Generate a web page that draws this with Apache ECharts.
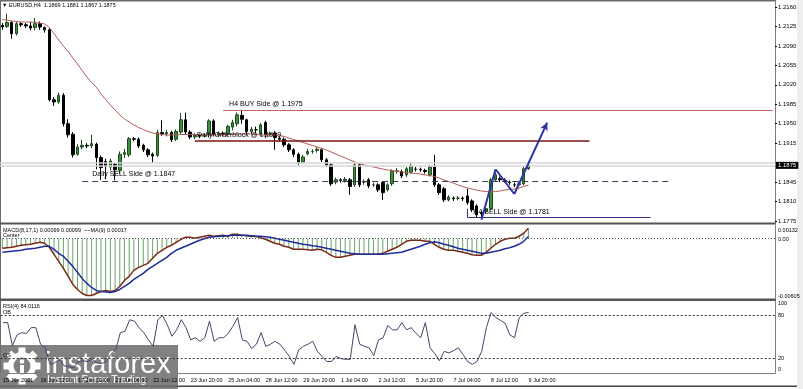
<!DOCTYPE html>
<html>
<head>
<meta charset="utf-8">
<title>EURUSD H4</title>
<script src="https://cdn.jsdelivr.net/npm/echarts@6/dist/echarts.min.js"></script>
<style>
  html, body { margin: 0; padding: 0; background: #fff; }
  #chart { width: 803px; height: 389px; }
</style>
</head>
<body>
<div id="chart"></div>
<script>
// ---- data ----
const symbol = 'EURUSD,H4'
const slotCount = 165 // bars + empty chart shift on the right

// every 8th bar gets a time label
const timeLabels = ['15 Jun 2021', '16 Jun 12:00', '17 Jun 20:00', '21 Jun 04:00', '22 Jun 12:00',
  '23 Jun 20:00', '25 Jun 04:00', '28 Jun 12:00', '29 Jun 20:00', '1 Jul 04:00', '2 Jul 12:00',
  '5 Jul 20:00', '7 Jul 04:00', '8 Jul 12:00', '9 Jul 20:00']

// [open, close, low, high]
const candles = [
  [1.2127, 1.2124, 1.2119, 1.2131], [1.2125, 1.2132, 1.2122, 1.2148], [1.2132, 1.2112, 1.2103, 1.2135],
  [1.2112, 1.2130, 1.2109, 1.2134], [1.2130, 1.2128, 1.2124, 1.2133], [1.2128, 1.2126, 1.2122, 1.2131],
  [1.2126, 1.2122, 1.2118, 1.2133], [1.2123, 1.2130, 1.2118, 1.2140], [1.2130, 1.2124, 1.2119, 1.2134],
  [1.2123, 1.2119, 1.2114, 1.2125], [1.2119, 1.1993, 1.1990, 1.2122], [1.1993, 1.1989, 1.1982, 1.1998],
  [1.1989, 1.2001, 1.1986, 1.2006], [1.2001, 1.1950, 1.1945, 1.2005], [1.1950, 1.1930, 1.1925, 1.1958],
  [1.1931, 1.1894, 1.1889, 1.1935], [1.1895, 1.1908, 1.1892, 1.1913], [1.1908, 1.1911, 1.1904, 1.1921],
  [1.1911, 1.1910, 1.1906, 1.1915], [1.1910, 1.1914, 1.1906, 1.1930], [1.1913, 1.1889, 1.1868, 1.1916],
  [1.1889, 1.1871, 1.1849, 1.1893], [1.1882, 1.1873, 1.1850, 1.1887], [1.1872, 1.1883, 1.1866, 1.1887],
  [1.1877, 1.1867, 1.1848, 1.1880], [1.1866, 1.1895, 1.1860, 1.1900], [1.1895, 1.1898, 1.1888, 1.1905],
  [1.1894, 1.1923, 1.1890, 1.1926], [1.1923, 1.1922, 1.1918, 1.1926], [1.1922, 1.1910, 1.1906, 1.1925],
  [1.1911, 1.1903, 1.1899, 1.1914], [1.1903, 1.1894, 1.1890, 1.1906], [1.1895, 1.1892, 1.1880, 1.1898],
  [1.1893, 1.1934, 1.1890, 1.1939], [1.1934, 1.1932, 1.1928, 1.1956], [1.1932, 1.1934, 1.1927, 1.1939],
  [1.1934, 1.1921, 1.1917, 1.1937], [1.1922, 1.1936, 1.1919, 1.1940], [1.1935, 1.1957, 1.1931, 1.1969],
  [1.1957, 1.1935, 1.1930, 1.1970], [1.1935, 1.1926, 1.1922, 1.1938], [1.1926, 1.1929, 1.1922, 1.1933],
  [1.1929, 1.1928, 1.1924, 1.1932], [1.1928, 1.1929, 1.1925, 1.1932], [1.1930, 1.1955, 1.1925, 1.1958],
  [1.1955, 1.1930, 1.1927, 1.1958], [1.1930, 1.1933, 1.1926, 1.1936], [1.1933, 1.1931, 1.1927, 1.1936],
  [1.1932, 1.1945, 1.1928, 1.1948], [1.1944, 1.1952, 1.1938, 1.1957], [1.1950, 1.1966, 1.1945, 1.1970],
  [1.1965, 1.1958, 1.1950, 1.1975], [1.1957, 1.1936, 1.1931, 1.1959], [1.1936, 1.1940, 1.1932, 1.1944],
  [1.1939, 1.1939, 1.1933, 1.1945], [1.1931, 1.1948, 1.1928, 1.1951], [1.1952, 1.1930, 1.1924, 1.1955],
  [1.1931, 1.1932, 1.1927, 1.1936], [1.1933, 1.1925, 1.1903, 1.1937], [1.1924, 1.1922, 1.1918, 1.1927],
  [1.1922, 1.1912, 1.1908, 1.1925], [1.1912, 1.1903, 1.1899, 1.1915], [1.1903, 1.1895, 1.1890, 1.1906],
  [1.1895, 1.1880, 1.1876, 1.1898], [1.1881, 1.1890, 1.1878, 1.1894], [1.1896, 1.1900, 1.1893, 1.1905],
  [1.1900, 1.1900, 1.1896, 1.1904], [1.1902, 1.1904, 1.1898, 1.1908], [1.1903, 1.1885, 1.1881, 1.1906],
  [1.1885, 1.1876, 1.1872, 1.1888], [1.1876, 1.1842, 1.1838, 1.1879], [1.1845, 1.1849, 1.1841, 1.1853],
  [1.1849, 1.1848, 1.1844, 1.1852], [1.1848, 1.1850, 1.1844, 1.1854], [1.1849, 1.1837, 1.1822, 1.1852],
  [1.1840, 1.1876, 1.1836, 1.1879], [1.1876, 1.1840, 1.1836, 1.1879], [1.1845, 1.1845, 1.1840, 1.1850],
  [1.1849, 1.1838, 1.1834, 1.1852], [1.1840, 1.1840, 1.1836, 1.1844], [1.1840, 1.1831, 1.1827, 1.1843],
  [1.1844, 1.1826, 1.1813, 1.1847], [1.1831, 1.1840, 1.1828, 1.1843], [1.1842, 1.1865, 1.1838, 1.1868],
  [1.1865, 1.1865, 1.1860, 1.1870], [1.1864, 1.1856, 1.1852, 1.1867], [1.1858, 1.1869, 1.1854, 1.1872],
  [1.1863, 1.1874, 1.1860, 1.1880], [1.1868, 1.1868, 1.1864, 1.1872], [1.1868, 1.1867, 1.1863, 1.1871],
  [1.1866, 1.1864, 1.1860, 1.1869], [1.1858, 1.1872, 1.1855, 1.1876], [1.1872, 1.1840, 1.1836, 1.1894],
  [1.1840, 1.1826, 1.1822, 1.1843], [1.1833, 1.1813, 1.1809, 1.1836], [1.1813, 1.1818, 1.1810, 1.1821],
  [1.1816, 1.1815, 1.1811, 1.1819], [1.1816, 1.1816, 1.1812, 1.1820], [1.1816, 1.1815, 1.1811, 1.1819],
  [1.1820, 1.1808, 1.1804, 1.1833], [1.1811, 1.1795, 1.1791, 1.1814], [1.1802, 1.1786, 1.1782, 1.1805],
  [1.1790, 1.1788, 1.1781, 1.1793], [1.1792, 1.1797, 1.1788, 1.1800], [1.1797, 1.1849, 1.1794, 1.1852],
  [1.1849, 1.1858, 1.1845, 1.1862], [1.1851, 1.1849, 1.1845, 1.1855], [1.1848, 1.1848, 1.1844, 1.1852],
  [1.1845, 1.1844, 1.1840, 1.1848], [1.1840, 1.1840, 1.1836, 1.1844], [1.1840, 1.1842, 1.1836, 1.1846],
  [1.1842, 1.1869, 1.1839, 1.1872], [1.1869, 1.1875, 1.1867, 1.1881]
]

// moving average on the price panel
const maValues = [
  1.21375, 1.21366, 1.21348, 1.21339, 1.21330, 1.21330, 1.21330, 1.21321, 1.21312, 1.21294,
  1.21231, 1.21123, 1.21006, 1.20898, 1.20799, 1.20683, 1.20574, 1.20457, 1.20340, 1.20241,
  1.20160, 1.20034, 1.19935, 1.19836, 1.19747, 1.19657, 1.19585, 1.19531, 1.19477, 1.19432,
  1.19396, 1.19360, 1.19333, 1.19315, 1.19306, 1.19297, 1.19297, 1.19297, 1.19306, 1.19306,
  1.19306, 1.19306, 1.19306, 1.19297, 1.19297, 1.19297, 1.19297, 1.19297, 1.19306, 1.19306,
  1.19315, 1.19315, 1.19315, 1.19315, 1.19306, 1.19297, 1.19297, 1.19297, 1.19297, 1.19288,
  1.19270, 1.19243, 1.19216, 1.19189, 1.19162, 1.19135, 1.19108, 1.19081, 1.19054, 1.19027,
  1.18991, 1.18955, 1.18919, 1.18883, 1.18847, 1.18811, 1.18784, 1.18757, 1.18739, 1.18721,
  1.18703, 1.18685, 1.18667, 1.18658, 1.18640, 1.18631, 1.18622, 1.18613, 1.18604, 1.18595,
  1.18577, 1.18568, 1.18550, 1.18523, 1.18487, 1.18460, 1.18433, 1.18396, 1.18370, 1.18343,
  1.18325, 1.18307, 1.18289, 1.18280, 1.18271, 1.18280, 1.18289, 1.18307, 1.18316, 1.18325,
  1.18343, 1.18370, 1.18396
]

const macdValues = [
  -0.00100, -0.00095, -0.00090, -0.00080, -0.00070, -0.00065, -0.00060, -0.00050, -0.00040, -0.00050,
  -0.00090, -0.00160, -0.00230, -0.00300, -0.00380, -0.00460, -0.00510, -0.00550, -0.00570, -0.00570,
  -0.00550, -0.00530, -0.00520, -0.00530, -0.00520, -0.00480, -0.00420, -0.00380, -0.00320, -0.00290,
  -0.00270, -0.00250, -0.00200, -0.00150, -0.00120, -0.00090, -0.00070, -0.00040, -0.00010, 0.00010,
  0.00010, 0.00000, 0.00010, 0.00020, 0.00030, 0.00020, 0.00025, 0.00030, 0.00020, 0.00040,
  0.00040, 0.00030, 0.00025, 0.00020, 0.00020, 0.00005, -0.00010, -0.00030, -0.00050, -0.00060,
  -0.00080, -0.00090, -0.00110, -0.00110, -0.00110, -0.00115, -0.00120, -0.00110, -0.00115, -0.00140,
  -0.00170, -0.00190, -0.00190, -0.00180, -0.00170, -0.00160, -0.00160, -0.00160, -0.00160, -0.00160,
  -0.00160, -0.00150, -0.00130, -0.00110, -0.00090, -0.00060, -0.00030, -0.00020, -0.00020, -0.00020,
  -0.00030, -0.00030, -0.00060, -0.00090, -0.00110, -0.00120, -0.00120, -0.00130, -0.00140, -0.00150,
  -0.00165, -0.00170, -0.00170, -0.00140, -0.00100, -0.00060, -0.00030, -0.00010, 0.00000, 0.00000,
  0.00020, 0.00050, 0.00099
]

const macdSignal = [
  -0.00140, -0.00135, -0.00130, -0.00125, -0.00120, -0.00110, -0.00105, -0.00100, -0.00090, -0.00080,
  -0.00080, -0.00110, -0.00150, -0.00180, -0.00230, -0.00280, -0.00340, -0.00400, -0.00450, -0.00490,
  -0.00520, -0.00530, -0.00535, -0.00540, -0.00530, -0.00510, -0.00480, -0.00450, -0.00410, -0.00380,
  -0.00350, -0.00310, -0.00280, -0.00250, -0.00220, -0.00190, -0.00150, -0.00120, -0.00100, -0.00080,
  -0.00060, -0.00040, -0.00020, -0.00005, 0.00010, 0.00015, 0.00020, 0.00020, 0.00025, 0.00030,
  0.00030, 0.00030, 0.00030, 0.00025, 0.00020, 0.00020, 0.00015, 0.00010, 0.00000, -0.00010,
  -0.00020, -0.00030, -0.00040, -0.00050, -0.00060, -0.00065, -0.00075, -0.00080, -0.00090, -0.00100,
  -0.00110, -0.00120, -0.00130, -0.00140, -0.00150, -0.00155, -0.00160, -0.00160, -0.00160, -0.00160,
  -0.00160, -0.00160, -0.00155, -0.00150, -0.00145, -0.00140, -0.00125, -0.00110, -0.00095, -0.00080,
  -0.00060, -0.00045, -0.00035, -0.00045, -0.00060, -0.00070, -0.00085, -0.00100, -0.00110, -0.00120,
  -0.00130, -0.00140, -0.00150, -0.00150, -0.00140, -0.00130, -0.00120, -0.00105, -0.00095, -0.00080,
  -0.00060, -0.00030, 0.00017
]

const rsiValues = [
  70, 70, 38, 53, 56, 55, 63, 63, 40, 35,
  12, 14, 19, 10, 9, 7, 16, 17, 16, 19,
  14, 13, 16, 26, 32, 56, 58, 74, 72, 63,
  56, 46, 37, 74, 80, 67, 51, 60, 74, 63,
  46, 49, 44, 49, 72, 44, 49, 49, 55, 65,
  77, 46, 44, 34, 40, 56, 37, 40, 44, 40,
  32, 23, 12, 32, 37, 40, 44, 30, 23, 16,
  16, 23, 20, 19, 19, 67, 40, 37, 35, 24,
  46, 49, 66, 60, 60, 70, 60, 63, 55, 49,
  70, 35, 27, 17, 30, 28, 31, 35, 26, 16,
  12, 16, 30, 63, 84, 77, 73, 69, 53, 49,
  77, 83, 84.0116
]

const priceTicks = [1.2160, 1.2125, 1.2090, 1.2055, 1.2020, 1.1985, 1.1950, 1.1915, 1.1845, 1.1810, 1.1775]
const macdTicks = [0.00132, 0, -0.00605]
const macdTickText = ['0.00132', '0.00', '-0.00605']
const rsiTicks = [100, 80, 20, 0]

// drawn objects: horizontal levels (bar index from / to)
const levelNames = ['H4 BUY Side @ 1.1975', 'Daily Orderblock @ 1.1919', 'Daily SELL Side @ 1.1847', 'H4 SELL Side @ 1.1781']
const levelPrices = [1.1975, 1.1919, 1.1847, 1.1781]
const levelFrom = [47, 41, 17, 99]
const levelTo = [164, 125, 142, 138]
const sellBoxTop = 1.1797
const zigzag = [[102, 1.1777], [105, 1.1868], [109, 1.18235], [116, 1.1952]]
const bidPrice = 1.1875
const askPrice = 1.1880

// ---- chart ----
const chart = echarts.init(document.getElementById('chart'))
const slots = Array.from({ length: slotCount }, (_, i) => String(i))
const last = candles[candles.length - 1]
const f4 = (v) => v.toFixed(4)
const tiny = { fontSize: 5.5, fontWeight: 'normal', color: '#000', fontFamily: 'Liberation Sans' }

const levelStyles = [
  { color: '#c86464', width: 1, type: 'solid' },
  { color: '#7d1414', width: 1.5, type: 'solid' },
  { color: '#3c3c5a', width: 1, type: [6, 4] },
  { color: '#34348c', width: 1, type: 'solid' }
]
const labelDist = [[6, 2], [2, 2], [10, 3], [6, 2]]

const levelLines = levelNames.map((name, k) => [
  {
    coord: [levelFrom[k], levelPrices[k]],
    lineStyle: levelStyles[k],
    label: {
      show: true, position: 'insideStartTop', formatter: name, distance: labelDist[k],
      color: '#000', fontSize: 7, fontFamily: 'Liberation Sans'
    }
  },
  { coord: [levelTo[k], levelPrices[k]] }
])

const zigLines = zigzag.slice(1).map((p, k) => [
  { coord: zigzag[k], lineStyle: { color: '#2b35a8', width: 2, type: 'solid' } },
  k === zigzag.length - 2 ? { coord: p, symbol: 'arrow', symbolSize: [6, 8] } : { coord: p }
])

const option = {
  animation: false,
  textStyle: { fontFamily: 'Liberation Sans' },
  title: [
    { text: `\u25BC ${symbol}  ${f4(last[0])} ${f4(last[3])} ${f4(last[2])} ${f4(last[1])}`, left: 2, top: 2, padding: 0, textStyle: tiny },
    { text: `MACD(8,17,1) ${macdValues.at(-1).toFixed(5)} ${macdValues.at(-1).toFixed(5)}  ~~MA(9) ${macdSignal.at(-1).toFixed(5)}`, left: 3, top: 227, padding: 0, textStyle: tiny },
    { text: 'Center', left: 3, top: 232.5, padding: 0, textStyle: tiny },
    { text: `RSI(4) ${rsiValues.at(-1).toFixed(4)}`, left: 3, top: 303, padding: 0, textStyle: tiny },
    { text: 'OB', left: 3, top: 309, padding: 0, textStyle: tiny },
    { text: 'OS', left: 3, top: 352, padding: 0, textStyle: tiny }
  ],
  grid: [
    { left: 0, right: 28, top: 2, height: 221 },
    { left: 0, right: 28, top: 225, height: 74 },
    { left: 0, right: 28, top: 301, height: 72 }
  ],
  xAxis: [0, 1, 2].map((g) => ({
    type: 'category', gridIndex: g, data: slots, boundaryGap: true,
    show: g === 2,
    axisLine: { show: true, lineStyle: { color: '#808080' } },
    axisTick: { show: false },
    splitLine: { show: false },
    axisLabel: {
      show: g === 2, fontSize: 5.5, color: '#000', align: 'left', margin: 4,
      interval: (i) => i % 8 === 0 && i / 8 < timeLabels.length,
      formatter: (v) => timeLabels[Math.round(Number(v) / 8)] || ''
    }
  })),
  yAxis: [
    {
      type: 'value', gridIndex: 0, position: 'right', min: 1.17713, max: 1.21690,
      axisLine: { show: true, lineStyle: { color: '#808080' } },
      splitLine: { show: false },
      axisTick: { show: true, length: 2, customValues: priceTicks, lineStyle: { color: '#000' } },
      axisLabel: { customValues: priceTicks, fontSize: 6, color: '#000', margin: 3, formatter: (v) => v.toFixed(4) }
    },
    {
      type: 'value', gridIndex: 1, position: 'right', min: -0.00605, max: 0.00132,
      axisLine: { show: true, lineStyle: { color: '#808080' } },
      splitLine: { show: false },
      axisTick: { show: false },
      axisLabel: {
        // nudge the extreme labels inside the panel like the terminal does
        customValues: [macdTicks[0] - 0.0005, macdTicks[1] - 0.00015, macdTicks[2] + 0.0003],
        fontSize: 5.5, color: '#000', margin: 3,
        formatter: (v) => {
          let best = 0
          const pos = [macdTicks[0] - 0.0005, macdTicks[1] - 0.00015, macdTicks[2] + 0.0003]
          pos.forEach((p, k) => { if (Math.abs(p - v) < Math.abs(pos[best] - v)) best = k })
          return macdTickText[best]
        }
      }
    },
    {
      type: 'value', gridIndex: 2, position: 'right', min: 0, max: 100,
      axisLine: { show: true, lineStyle: { color: '#808080' } },
      splitLine: { show: false },
      axisTick: { show: false },
      axisLabel: {
        customValues: [rsiTicks[0] - 3.5, rsiTicks[1], rsiTicks[2], rsiTicks[3] + 4.5],
        fontSize: 5.5, color: '#000', margin: 3,
        formatter: (v) => {
          let best = 0
          rsiTicks.forEach((t, k) => { if (Math.abs(t - v) < Math.abs(rsiTicks[best] - v)) best = k })
          return String(rsiTicks[best])
        }
      }
    }
  ],
  series: [
    {
      type: 'candlestick', xAxisIndex: 0, yAxisIndex: 0, data: candles, barWidth: 3,
      itemStyle: { color: '#3f8f3f', color0: '#000', borderColor: '#1d4a1d', borderColor0: '#000', borderWidth: 1 },
      silent: true
    },
    {
      type: 'line', xAxisIndex: 0, yAxisIndex: 0, data: maValues, symbol: 'none', silent: true,
      lineStyle: { color: '#b45a55', width: 1 },
      markLine: {
        silent: true, symbol: ['none', 'none'], precision: 5,
        label: { show: false },
        data: [
          { yAxis: askPrice, lineStyle: { color: '#d6d6d6', width: 1.5, type: 'solid' }, label: { show: false } },
          {
            yAxis: bidPrice, lineStyle: { color: '#d6d6d6', width: 1.5, type: 'solid' },
            label: {
              show: true, position: 'end', formatter: f4(bidPrice), distance: 1,
              color: '#fff', backgroundColor: '#000', padding: [1, 2, 0, 2], fontSize: 6
            }
          },
          ...levelLines,
          [
            { coord: [levelFrom[3], sellBoxTop], lineStyle: levelStyles[3] },
            { coord: [levelFrom[3], levelPrices[3]] }
          ],
          ...zigLines
        ]
      }
    },
    {
      type: 'bar', xAxisIndex: 1, yAxisIndex: 1, data: macdValues, barWidth: 1, silent: true,
      itemStyle: { color: '#6aa56a' },
      markLine: {
        silent: true, symbol: ['none', 'none'], label: { show: false }, precision: 6,
        lineStyle: { color: '#555', type: [1, 2], width: 1 },
        data: [{ yAxis: 0 }]
      }
    },
    {
      type: 'line', xAxisIndex: 1, yAxisIndex: 1, data: macdValues, symbol: 'none', silent: true,
      lineStyle: { color: '#7b2a18', width: 1.5 }
    },
    {
      type: 'line', xAxisIndex: 1, yAxisIndex: 1, data: macdSignal, symbol: 'none', silent: true,
      lineStyle: { color: '#1f2c9c', width: 1.5 }
    },
    {
      type: 'line', xAxisIndex: 2, yAxisIndex: 2, data: rsiValues, symbol: 'none', silent: true,
      lineStyle: { color: '#44446c', width: 1 },
      markLine: {
        silent: true, symbol: ['none', 'none'], label: { show: false },
        lineStyle: { color: '#333', type: [2, 2], width: 1 },
        data: [{ yAxis: 80 }, { yAxis: 20 }]
      }
    }
  ],
  graphic: [
    // window frame and panel separators
    { type: 'rect', shape: { x: 0, y: 0, width: 776, height: 1.5 }, style: { fill: '#6a6a6a' }, silent: true },
    { type: 'rect', shape: { x: 0, y: 0, width: 1, height: 374 }, style: { fill: '#6a6a6a' }, silent: true },
    { type: 'rect', shape: { x: 0, y: 222.5, width: 776, height: 2 }, style: { fill: '#555' }, silent: true },
    { type: 'rect', shape: { x: 0, y: 298.5, width: 776, height: 2.5 }, style: { fill: '#555' }, silent: true },
    { type: 'rect', shape: { x: 0, y: 385.5, width: 797, height: 1.5 }, style: { fill: '#444' }, silent: true },
    { type: 'rect', shape: { x: 797, y: 0, width: 6, height: 389 }, style: { fill: '#eeeeee' }, silent: true },
    // watermark
    {
      type: 'group', left: 0, top: 345, silent: true,
      children: [
        { type: 'rect', shape: { x: 0, y: 0, width: 178, height: 44 }, style: { fill: 'rgba(108,108,108,0.86)' } },
        { type: 'ring', shape: { cx: 22, cy: 21, r: 14, r0: 8.5 }, style: { fill: '#fff' } },
        ...Array.from({ length: 8 }, (_, k) => ({
          type: 'rect', x: 22, y: 21, rotation: k * Math.PI / 4,
          shape: { x: -3.5, y: -18.5, width: 7, height: 6 }, style: { fill: '#fff' }
        })),
        { type: 'circle', shape: { cx: 22, cy: 16.5, r: 2.3 }, style: { fill: '#fff' } },
        { type: 'rect', shape: { x: 20, y: 20, width: 4, height: 8 }, style: { fill: '#fff' } },
        {
          type: 'text', x: 45, y: 5,
          style: { text: 'instaforex', fill: '#fff', fontSize: 29, lineHeight: 29, fontFamily: 'Liberation Sans', verticalAlign: 'top' }
        },
        {
          type: 'text', x: 47, y: 30,
          style: { text: 'Instant Forex Trading', fill: '#fff', fontSize: 10.5, lineHeight: 11, fontFamily: 'Liberation Sans', verticalAlign: 'top' }
        }
      ]
    }
  ]
}

chart.setOption(option)
</script>
</body>
</html>
